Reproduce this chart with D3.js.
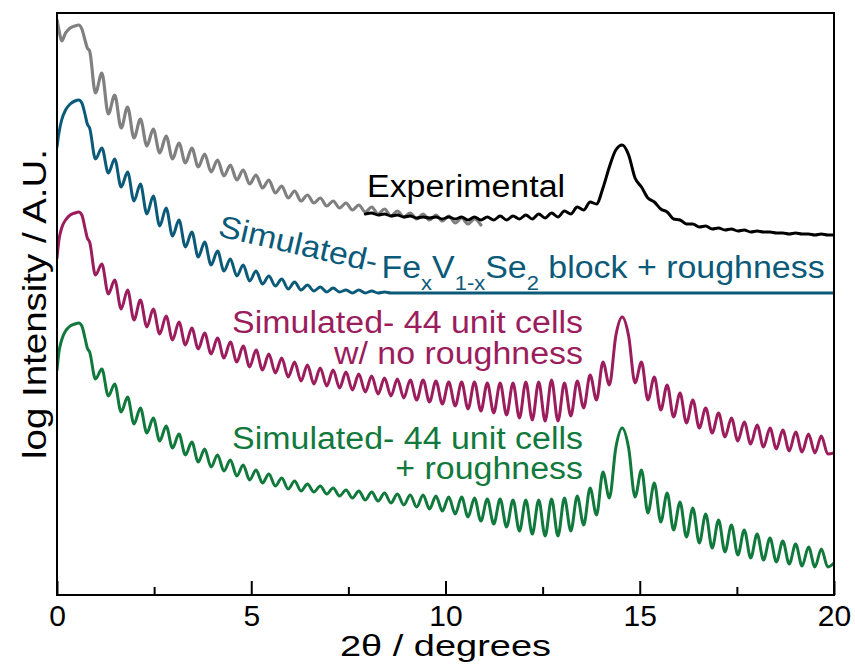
<!DOCTYPE html>
<html><head><meta charset="utf-8">
<script src="https://cdn.jsdelivr.net/npm/d3@7"></script>
<style>html,body{margin:0;padding:0;background:#fff;} svg{display:block;}</style>
</head><body><svg id="chart" width="855" height="666"></svg>
<script>
// 2θ sample positions (degrees): low-angle region, then fringe extrema (trough / crest)
const angleLow = [0, 0.05, 0.12, 0.22, 0.34, 0.46, 0.56, 0.64, 0.72, 0.78, 0.84];
const angleFringe = [
0.990,1.155,1.321,1.486,1.651,1.817,1.982,2.147,2.313,2.478,
2.644,2.809,2.974,3.140,3.305,3.470,3.636,3.801,3.966,4.132,
4.297,4.462,4.628,4.793,4.958,5.124,5.289,5.454,5.620,5.785,
5.951,6.116,6.281,6.447,6.612,6.777,6.943,7.108,7.273,7.439,
7.604,7.769,7.935,8.100,8.265,8.431,8.596,8.761,8.927,9.092,
9.258,9.423,9.588,9.754,9.919,10.084,10.250,10.415,10.580,10.746,
10.911,11.076,11.242,11.407,11.572,11.738,11.903,12.068,12.234,12.399,
12.565,12.730,12.895,13.061,13.226,13.391,13.557,13.722,13.887,14.053,
14.218,14.383,14.549,14.714,14.879,15.045,15.210,15.375,15.541,15.706,
15.871,16.037,16.202,16.367,16.533,16.698,16.864,17.029,17.194,17.360,
17.525,17.690,17.856,18.021,18.186,18.352,18.517,18.682,18.848,19.013,
19.178,19.344,19.509,19.674,19.840,20.000];

// log intensity (offset, arbitrary units)
const experimentalLowLog = [5.75,5.65,5.54,5.62,5.67,5.69,5.70,5.66,5.55,5.47,5.44,
5.02,5.22,4.81,5.00,4.67,4.88,4.57,4.76,4.49,4.66,
4.42,4.59,4.36,4.52,4.32,4.47,4.28,4.41,4.23,4.35,
4.19,4.30,4.15,4.25,4.11,4.20,4.07,4.15,4.02,4.09,
3.97,4.04,3.94,4.00,3.92,3.97,3.89,3.94,3.87,3.92,
3.85,3.90,3.83,3.88,3.81,3.86,3.79,3.84,3.78,3.82,
3.76,3.81,3.75,3.80,3.74,3.79,3.72,3.77,3.71,3.76,
3.70];
const experimentalLowStart = 0;

const experimentalLog = [3.81,3.82,3.80,3.81,3.79,3.80,3.78,3.79,3.77,3.78,
3.77,3.78,3.76,3.78,3.76,3.78,3.75,3.78,3.75,3.78,
3.75,3.79,3.75,3.79,3.76,3.80,3.76,3.81,3.77,3.82,
3.78,3.84,3.81,3.88,3.85,3.93,3.91,4.07,4.28,4.45,
4.50,4.40,4.17,4.08,3.97,3.93,3.86,3.83,3.76,3.75,
3.71,3.71,3.68,3.69,3.66,3.67,3.65,3.66,3.64,3.65,
3.63,3.64,3.63,3.63,3.62,3.62,3.61,3.62,3.61,3.61,
3.60,3.61,3.60,3.60];
const experimentalStart = 53;

const blockLog = [4.48,4.62,4.75,4.85,4.91,4.94,4.95,4.92,4.81,4.71,4.67,
4.36,4.47,4.22,4.36,4.08,4.23,3.94,4.11,3.81,3.99,
3.69,3.87,3.59,3.75,3.48,3.63,3.38,3.53,3.30,3.44,
3.24,3.36,3.19,3.30,3.14,3.24,3.11,3.19,3.09,3.16,
3.06,3.13,3.05,3.10,3.04,3.08,3.03,3.07,3.03,3.05,
3.02,3.05,3.02,3.04,3.02,3.03,3.02,3.02,3.02,3.02,
3.02,3.02,3.02,3.02,3.02,3.02,3.02,3.02,3.02,3.02,
3.02,3.02,3.02,3.02,3.02,3.02,3.02,3.02,3.02,3.02,
3.02,3.02,3.02,3.02,3.02,3.02,3.02,3.02,3.02,3.02,
3.02,3.02,3.02,3.02,3.02,3.02,3.02,3.02,3.02,3.02,
3.02,3.02,3.02,3.02,3.02,3.02,3.02,3.02,3.02,3.02,
3.02,3.02,3.02,3.02,3.02,3.02,3.02,3.02,3.02,3.02,
3.02,3.02,3.02,3.02,3.02,3.02];
const blockStart = 0;

const noRoughLog = [3.37,3.55,3.67,3.75,3.80,3.82,3.83,3.80,3.67,3.57,3.53,
3.20,3.31,3.01,3.15,2.86,3.05,2.75,2.95,2.68,2.86,
2.61,2.79,2.55,2.73,2.50,2.67,2.46,2.62,2.41,2.57,
2.37,2.53,2.33,2.49,2.28,2.45,2.25,2.41,2.22,2.37,
2.18,2.33,2.14,2.30,2.11,2.27,2.09,2.25,2.07,2.23,
2.05,2.21,2.03,2.19,2.01,2.17,1.99,2.16,1.97,2.15,
1.95,2.15,1.93,2.14,1.91,2.13,1.89,2.13,1.86,2.13,
1.84,2.12,1.82,2.12,1.80,2.12,1.77,2.13,1.75,2.13,
1.74,2.15,1.74,2.12,1.79,2.14,1.87,2.20,1.95,2.33,
2.10,2.59,2.78,2.59,2.12,2.33,1.95,2.18,1.85,2.10,
1.78,2.02,1.72,1.95,1.67,1.87,1.62,1.82,1.58,1.77,
1.54,1.73,1.51,1.70,1.48,1.67,1.46,1.65,1.44,1.63,
1.43,1.61,1.42,1.59,1.41,1.42];
const noRoughStart = 0;

const roughLog = [2.25,2.43,2.55,2.64,2.69,2.71,2.72,2.69,2.57,2.47,2.43,
2.16,2.26,1.99,2.11,1.83,1.98,1.71,1.87,1.62,1.77,
1.54,1.69,1.47,1.61,1.40,1.53,1.33,1.46,1.28,1.40,
1.24,1.35,1.19,1.30,1.15,1.25,1.12,1.21,1.09,1.17,
1.06,1.14,1.04,1.11,1.03,1.09,1.01,1.07,0.99,1.05,
0.97,1.04,0.95,1.03,0.94,1.02,0.92,1.01,0.90,1.00,
0.88,1.00,0.86,0.99,0.84,0.98,0.81,0.98,0.78,0.97,
0.74,0.96,0.71,0.96,0.68,0.95,0.64,0.95,0.61,0.95,
0.59,0.96,0.59,0.97,0.64,0.99,0.70,1.07,0.80,1.23,
0.97,1.47,1.67,1.47,0.98,1.25,0.82,1.12,0.73,1.02,
0.65,0.93,0.58,0.87,0.52,0.81,0.47,0.75,0.43,0.70,
0.40,0.65,0.37,0.61,0.35,0.57,0.33,0.54,0.31,0.51,
0.29,0.48,0.28,0.46,0.28,0.32];
const roughStart = 0;

const xTicksMajor = [0, 5, 10, 15, 20];
const xTicksMinor = [2.5, 7.5, 12.5, 17.5];

const angle = angleLow.concat(angleFringe);
const FONT = "'Liberation Sans', Arial, Helvetica, sans-serif";

const svg = d3.select("#chart");
const x = d3.scaleLinear().domain([0, 20]).range([57, 834]);
const y = d3.scaleLinear().domain([0, 5.82]).range([595, 13]);

svg.append("defs").append("clipPath").attr("id", "plotclip")
  .append("rect").attr("x", 57).attr("y", 13).attr("width", 777).attr("height", 582);

const line = d3.line().x(d => x(d[0])).y(d => y(d[1])).curve(d3.curveMonotoneX);
const mk = (vals, start) => vals.map((v, i) => [angle[start + i], v]);

const seriesList = [
  {vals: experimentalLowLog, start: experimentalLowStart, color: "#808080", w: 3.2},
  {vals: experimentalLog, start: experimentalStart, color: "#000000", w: 3.0},
  {vals: blockLog, start: blockStart, color: "#0c5a79", w: 3.0},
  {vals: noRoughLog, start: noRoughStart, color: "#9b1d5d", w: 3.0},
  {vals: roughLog, start: roughStart, color: "#12793d", w: 3.0}
];

const gLines = svg.append("g").attr("clip-path", "url(#plotclip)");
seriesList.forEach(s => {
  gLines.append("path").datum(mk(s.vals, s.start))
    .attr("d", line).attr("fill", "none").attr("stroke", s.color)
    .attr("stroke-width", s.w).attr("stroke-linejoin", "round").attr("stroke-linecap", "round");
});

// frame
svg.append("rect").attr("x", 57).attr("y", 13).attr("width", 777).attr("height", 582)
  .attr("fill", "none").attr("stroke", "#000").attr("stroke-width", 2);

// axes (inward ticks)
const axMaj = svg.append("g").attr("transform", "translate(0,595)")
  .call(d3.axisBottom(x).tickValues(xTicksMajor).tickSize(-14).tickPadding(10).tickFormat(d3.format("d")));
const axMin = svg.append("g").attr("transform", "translate(0,595)")
  .call(d3.axisBottom(x).tickValues(xTicksMinor).tickSize(-8).tickFormat(""));
[axMaj, axMin].forEach(a => {
  a.select(".domain").remove();
  a.selectAll("line").attr("stroke", "#000").attr("stroke-width", 2);
  a.selectAll("text").attr("font-family", FONT).attr("font-size", 30).attr("fill", "#000");
});

// axis titles
svg.append("text").attr("x", 445.5).attr("y", 656).attr("text-anchor", "middle")
  .attr("font-family", FONT).attr("font-size", 30).attr("fill", "#000")
  .attr("textLength", 211).attr("lengthAdjust", "spacingAndGlyphs")
  .text("2θ / degrees");
svg.append("text").attr("transform", "translate(46,304) rotate(-90)").attr("text-anchor", "middle")
  .attr("font-family", FONT).attr("font-size", 34).attr("fill", "#000")
  .attr("textLength", 310).attr("lengthAdjust", "spacingAndGlyphs")
  .text("log Intensity / A.U.");

// annotations
function label(tf, anchor, color, txt) {
  return svg.append("text").attr("transform", tf + " scale(1.095,1)")
    .attr("text-anchor", anchor).attr("font-family", FONT).attr("font-size", 31)
    .attr("fill", color).text(txt);
}
label("translate(367,197)", "start", "#000000", "Experimental");
label("translate(217,236) rotate(13)", "start", "#0c5a79", "Simulated-");
const blk = svg.append("text").attr("transform", "translate(381.5,278) scale(1.095,1)")
  .attr("font-family", FONT).attr("font-size", 31).attr("fill", "#0c5a79")
  .style("white-space", "pre");
blk.append("tspan").text("Fe");
blk.append("tspan").attr("font-size", 20).attr("dy", 12).text("x");
blk.append("tspan").attr("dy", -12).text("V");
blk.append("tspan").attr("font-size", 20).attr("dy", 12).text("1-x");
blk.append("tspan").attr("dy", -12).text("Se");
blk.append("tspan").attr("font-size", 20).attr("dy", 12).text("2");
blk.append("tspan").attr("dy", -12).text(" block + roughness");

label("translate(583,333)", "end", "#9b1d5d", "Simulated- 44 unit cells");
label("translate(583,364)", "end", "#9b1d5d", "w/ no roughness");
label("translate(583,449)", "end", "#12793d", "Simulated- 44 unit cells");
label("translate(583,479)", "end", "#12793d", "+ roughness");
</script></body></html>
